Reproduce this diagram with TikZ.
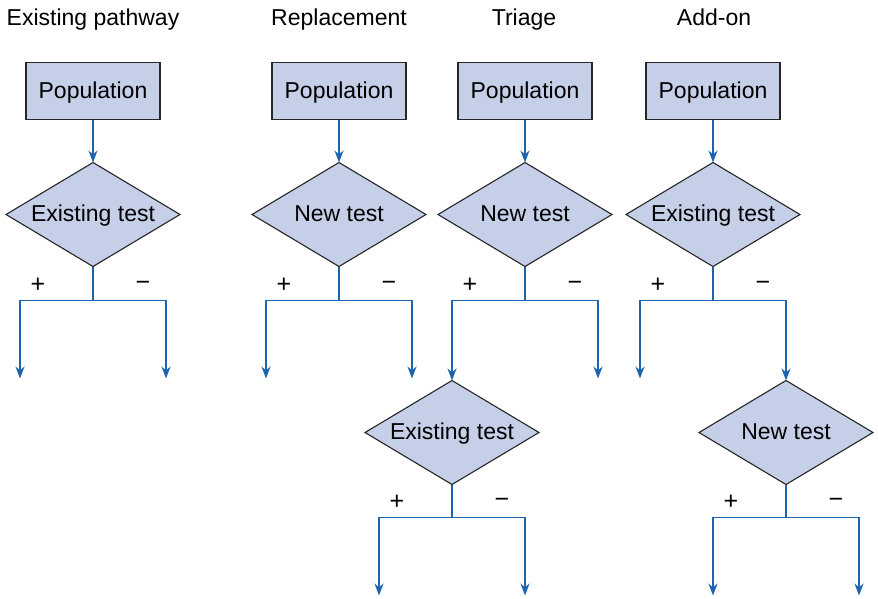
\documentclass[tikz,border=0pt]{standalone}
\usepackage{fontspec}
\setmainfont{Liberation Sans}
\usetikzlibrary{positioning,arrows.meta,shapes.geometric,calc}
\definecolor{BoxFill}{RGB}{198,207,232}
\definecolor{FlowBlue}{RGB}{28,100,176}

\begin{document}
\begin{tikzpicture}[x=1pt, y=-1pt,
    popbox/.style={rectangle, draw=black!85, fill=BoxFill, line width=1.1pt,
                 minimum width=134pt, minimum height=57pt, inner sep=0pt, outer sep=0pt,
                 text height=17pt, text depth=2pt,
                 font=\fontsize{23}{27}\selectfont},
    testbox/.style={diamond, draw=black!85, fill=BoxFill, line width=1.1pt, aspect=1.67,
                 minimum width=174pt, minimum height=104pt, inner sep=0pt, outer sep=0pt,
                 text height=17pt, text depth=3pt,
                 font=\fontsize{23}{27}\selectfont},
    title/.style={anchor=base, inner sep=0pt, font=\fontsize{23}{27}\selectfont},
    sign/.style={inner sep=0pt, font=\fontsize{25}{28}\selectfont},
    line/.style={draw=FlowBlue, line width=1.4pt},
    arrow/.style={line, -{Stealth[length=12pt, width=9pt]}}
]
    \useasboundingbox (0,0) rectangle (878,598);

    % titles
    \node[title] (t1) at (93,25) {Existing pathway};
    \node[title] (t2) at (339,25) {Replacement};
    \node[title] (t3) at (524,25) {Triage};
    \node[title] (t4) at (714,25) {Add-on};

    % first row
    \node[popbox] (pop1) at (93,91) {Population};
    \node[popbox] (pop2) at (339,91) {Population};
    \node[popbox] (pop3) at (525,91) {Population};
    \node[popbox] (pop4) at (713,91) {Population};
    \node[testbox, below=43pt of pop1] (test1) {Existing test};
    \node[testbox, below=43pt of pop2] (test2) {New test};
    \node[testbox, below=43pt of pop3] (test3) {New test};
    \node[testbox, below=43pt of pop4] (test4) {Existing test};
    \foreach \i in {1,...,4} {
        \draw[arrow] (pop\i) -- (test\i);
        \coordinate[below=34pt of test\i.south] (split\i);
        \coordinate[left=73pt of split\i] (left\i);
        \coordinate[right=73pt of split\i] (right\i);
        \coordinate[below left=78pt and 73pt of split\i] (yes\i);
        \coordinate[below right=78pt and 73pt of split\i] (no\i);
        \draw[line] (test\i.south) -- (split\i);
        \node[sign] (plus\i) at ($(split\i)+(-55,-15)$) {+};
        \node[sign] (minus\i) at ($(split\i)+(50,-15)$) {−};
    }

    % second row
    \node[testbox, below=80pt of left3] (test3b) {Existing test};
    \node[testbox, below=80pt of right4] (test4b) {New test};
    \foreach \i in {3b,4b} {
        \coordinate[below=33pt of test\i.south] (split\i);
        \coordinate[below left=78pt and 73pt of split\i] (yes\i);
        \coordinate[below right=78pt and 73pt of split\i] (no\i);
        \draw[line] (test\i.south) -- (split\i);
        \draw[arrow] (split\i) -| (yes\i);
        \draw[arrow] (split\i) -| (no\i);
        \node[sign] (plus\i) at ($(split\i)+(-55,-15)$) {+};
        \node[sign] (minus\i) at ($(split\i)+(50,-15)$) {−};
    }

    % branches of the first row
    \draw[arrow] (split1) -| (yes1);
    \draw[arrow] (split1) -| (no1);
    \draw[arrow] (split2) -| (yes2);
    \draw[arrow] (split2) -| (no2);
    \draw[arrow] (split3) -| (test3b.north);
    \draw[arrow] (split3) -| (no3);
    \draw[arrow] (split4) -| (yes4);
    \draw[arrow] (split4) -| (test4b.north);
\end{tikzpicture}
\end{document}
